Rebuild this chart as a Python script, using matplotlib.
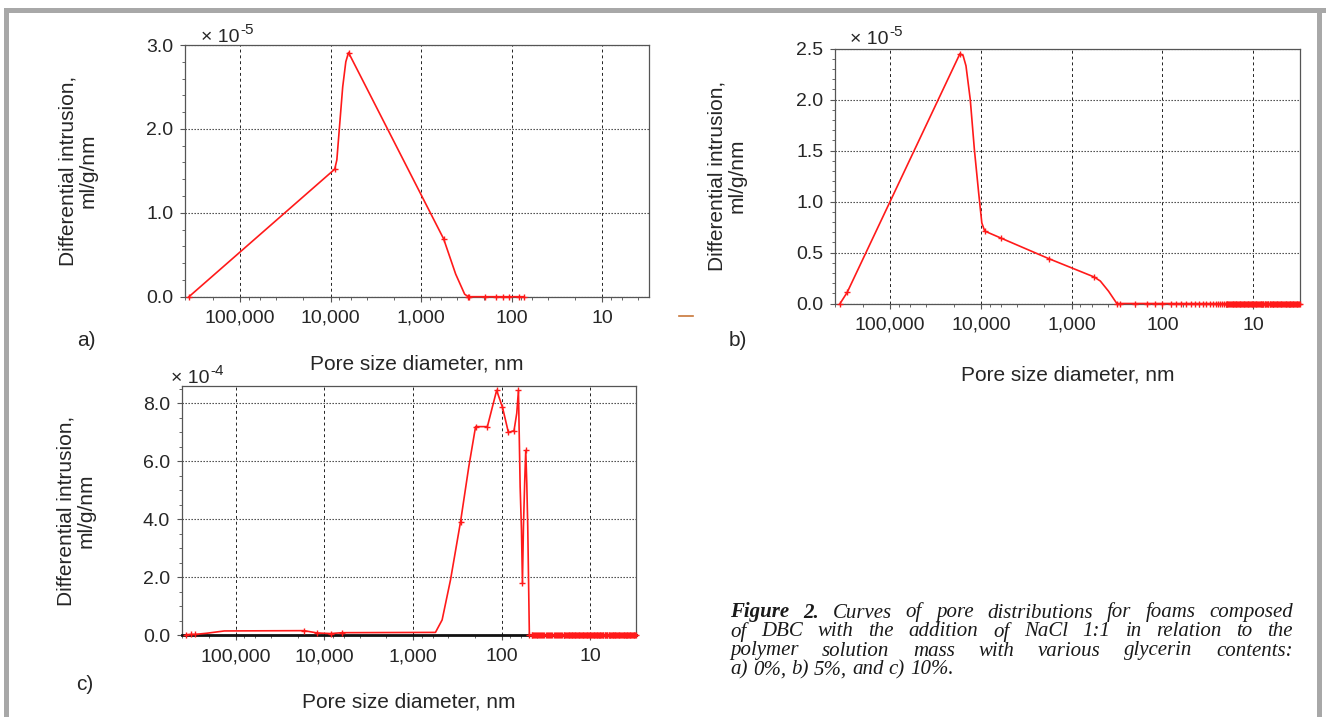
import matplotlib
matplotlib.use("Agg")
import matplotlib.pyplot as plt
from matplotlib.ticker import MultipleLocator, LogLocator, FixedLocator, FuncFormatter, NullFormatter
from matplotlib.patches import Rectangle
from matplotlib.lines import Line2D
from matplotlib.transforms import IdentityTransform

plt.rcParams['font.family'] = ['Liberation Sans', 'DejaVu Sans']

W, H = 1326, 717

# ---- data (pore diameter in nm, differential intrusion in units of the axis multiplier)
pore_a = [366000, 9000, 8530, 7350, 6790, 6340, 565, 416, 331, 302,
          295, 198, 149, 126, 106, 84, 73]
intr_a = [0.0, 1.52, 1.63, 2.50, 2.80, 2.91, 0.69, 0.27, 0.03, 0.0,
          0.0, 0.0, 0.0, 0.0, 0.0, 0.0, 0.0]
marks_a = [0, 1, 5, 6, 9, 10, 11, 12, 13, 14, 15, 16]

pore_b = [356000, 297000, 17000, 15700, 14600, 13100, 11800, 10600, 9770, 9080,
          5970, 1790, 565, 483, 392, 318]
intr_b = [0.0, 0.11, 2.45, 2.43, 2.33, 2.00, 1.51, 1.09, 0.79, 0.71,
          0.64, 0.44, 0.26, 0.22, 0.12, 0.0]
marks_b = [0, 1, 2, 9, 10, 11, 12, 15]

# low-diameter tail of zero readings (dense high-pressure steps)
tail_fine = [20, 19.6, 19.2, 18.8, 18.4, 18.0, 17.6, 17.3, 16.9, 16.6, 16.2,
             15.9, 15.6, 15.3, 15.0, 14.7, 14.4, 14.1, 13.8, 13.5, 13.3, 13.0,
             12.7, 12.5, 12.2, 12.0, 11.7, 11.5, 11.3, 11.0, 10.8, 10.6, 10.4,
             10.2, 10.0, 9.8, 9.6, 9.4, 9.2, 9.0, 8.8, 8.7, 8.5, 8.3, 8.2, 8.0,
             7.8, 7.7, 7.5, 7.4, 7.2, 7.1, 6.9, 6.8, 6.6, 6.5, 6.4, 6.2, 6.1,
             6.0, 5.9, 5.7, 5.6, 5.5, 5.4, 5.3, 5.2, 5.1, 5.0, 4.9, 4.8, 4.7,
             4.6, 4.5, 4.4, 4.3, 4.22, 4.14, 4.06, 3.98, 3.9, 3.82, 3.74, 3.67,
             3.6, 3.53, 3.46, 3.39, 3.32, 3.25, 3.19, 3.13, 3.07]
tail_b = [293, 200, 148, 120, 100, 81, 70, 62, 55, 49, 44, 40, 36, 33, 30, 28,
          26, 24.5, 23, 22, 21]
tail_c = [46, 45, 44, 43, 42, 41, 40, 39, 38, 37, 36, 35, 34, 33, 32, 31, 30,
          29.2, 28.4, 27.6, 26.8, 26, 25.3, 24.6, 23.9, 23.2, 22.5, 21.8,
          21.2, 20.6]

pore_c = [362000, 320000, 290000, 214000, 135000, 17000, 12000, 8500, 6300, 559,
          470, 378, 291, 235, 197, 145, 127, 114, 98, 84,
          72.6, 67.6, 64.7, 61.9, 59.8, 58.3, 56.8, 54.9, 53.5, 52.1,
          50.8, 48.7]
intr_c = [0.02, 0.03, 0.03, 0.07, 0.15, 0.16, 0.08, 0.06, 0.09, 0.10,
          0.53, 1.91, 3.92, 5.81, 7.19, 7.19, 7.88, 8.44, 7.86, 6.99,
          7.05, 7.65, 8.44, 5.12, 3.63, 1.81, 3.75, 5.36, 6.37, 5.24,
          3.75, 0.0]
marks_c = [0, 1, 2, 5, 6, 7, 8, 12, 14, 15, 17, 18, 19, 20, 22, 25, 28, 31]

x_ticks = [100000, 10000, 1000, 100, 10]
caption_lines = [
    "Figure 2. Curves of pore distributions for foams composed",
    "of DBC with the addition of NaCl 1:1 in relation to the",
    "polymer solution mass with various glycerin contents:",
    "a) 0%, b) 5%, and c) 10%.",
]

fig = plt.figure(figsize=(W / 100, H / 100), dpi=100)
TXT = '#262626'


def px_rect(l, t, r, b):
    return [l / W, 1 - b / H, (r - l) / W, (b - t) / H]


def make_panel(rect, pores, vals, marks, ymax, ystep, yminor, expo, mult_xy, tag, tag_xy):
    ax = fig.add_axes(px_rect(*rect))
    ax.plot(pores, vals, color='#ff1a1a', lw=1.2, marker='+', ms=5, mew=1.0,
            markevery=marks, clip_on=False, zorder=3)
    ax.set_xscale('log')
    ax.set_xlim(4.05e5, 3.05)
    ax.set_ylim(0, ymax)
    ax.xaxis.set_major_locator(FixedLocator(x_ticks))
    ax.xaxis.set_major_formatter(FuncFormatter(lambda v, p: f"{v:,.0f}"))
    ax.xaxis.set_minor_locator(LogLocator(base=10, subs=(2, 4, 6, 8)))
    ax.xaxis.set_minor_formatter(NullFormatter())
    ax.yaxis.set_major_locator(MultipleLocator(ystep))
    ax.yaxis.set_minor_locator(MultipleLocator(yminor))
    ax.yaxis.set_major_formatter(FuncFormatter(lambda v, p: f"{v:.1f}"))
    ax.tick_params(which='major', direction='out', length=3.5, width=0.8,
                   color='#555555', labelsize=14, labelcolor=TXT)
    ax.tick_params(which='minor', direction='out', length=2.2, width=0.7,
                   color='#666666')
    ax.tick_params(axis='x', which='major', pad=6)
    ax.tick_params(axis='y', which='major', pad=5)
    ax.grid(axis='x', which='major', ls=(0, (3, 3)), color='#222222', lw=0.7)
    ax.grid(axis='y', which='major', ls=(0, (1.2, 1.5)), color='#333333', lw=0.8)
    for s in ax.spines.values():
        s.set_color('#555555')
        s.set_linewidth(0.9)
    ax.set_xlabel('Pore size diameter, nm', fontsize=15, color=TXT)
    ax.set_ylabel('Differential intrusion,\nml/g/nm', fontsize=15, color=TXT,
                  linespacing=1.1, va='center')
    l, t, r, b = rect
    ax.xaxis.set_label_coords(0.5, -(tag_xy[2] - b) / (b - t))
    ax.yaxis.set_label_coords((tag_xy[3] - l) / (r - l), 0.5)
    # "x 10" multiplier with a raised exponent
    fig.text(mult_xy[0] / W, 1 - (mult_xy[1] + 2) / H, '× 10', fontsize=14,
             color=TXT, va='center', ha='left')
    fig.text((mult_xy[0] + 39) / W, 1 - (mult_xy[1] - 5) / H, expo, fontsize=11,
             color=TXT, va='center', ha='left')
    fig.text(tag_xy[0] / W, 1 - tag_xy[1] / H, tag, fontsize=15,
             color=TXT, va='center', ha='center')
    return ax


# tag_xy: (tag x, tag y, xlabel centre y, ylabel centre x)
ax_a = make_panel((185, 45, 649, 296.7), pore_a, intr_a, marks_a, 3.0, 1.0, 0.2,
                  '-5', (201, 35), 'a)', (86, 341, 355, 78))
tb = tail_b + tail_fine
ax_b = make_panel((835, 48.5, 1300, 303.5), pore_b + tb,
                  intr_b + [0.0] * len(tb),
                  marks_b + list(range(len(pore_b), len(pore_b) + len(tb))),
                  2.5, 0.5, 0.1, '-5', (850, 37), 'b)', (738, 340, 365, 727))
tc = tail_c + tail_fine
ax_c = make_panel((182, 385.7, 636, 635.3), pore_c + tc,
                  intr_c + [0.0] * len(tc),
                  marks_c + list(range(len(pore_c), len(pore_c) + len(tc))),
                  8.6, 2.0, 0.5, '-4', (171, 376), 'c)', (85, 685, 692, 76))
ax_c.spines['bottom'].set_color('#111111')
ax_c.spines['bottom'].set_linewidth(2.0)

# page frame and stray mark
fig.patches.append(Rectangle((4 / W, 1 - 13 / H), (W - 4) / W, 5 / H,
                             transform=fig.transFigure, color='#a8a8a8', lw=0))
fig.patches.append(Rectangle((4 / W, 0), 5 / W, 1 - 8 / H,
                             transform=fig.transFigure, color='#a8a8a8', lw=0))
fig.patches.append(Rectangle((1317 / W, 0), 5 / W, 1 - 8 / H,
                             transform=fig.transFigure, color='#a8a8a8', lw=0))
fig.lines.append(Line2D([679 / W, 693 / W], [1 - 316 / H, 1 - 316 / H],
                        transform=fig.transFigure, color='#c8773a', lw=1.2))

# justified caption
fig.canvas.draw()
renderer = fig.canvas.get_renderer()
cap_left, cap_right = 730, 1293
cap_base = [617.5, 636.5, 655.5, 674.5]
cap_size = 15
for i, line in enumerate(caption_lines):
    words = []
    for j, w in enumerate(line.split()):
        t = fig.text(0, H - cap_base[i], w, transform=IdentityTransform(),
                     fontsize=cap_size, family='Liberation Serif', style='italic',
                     weight='bold' if (i == 0 and j < 2) else 'normal',
                     va='baseline', ha='left', color='#1a1a1a')
        words.append(t)
    widths = [t.get_window_extent(renderer).width for t in words]
    if i < len(caption_lines) - 1:
        gap = (cap_right - cap_left - sum(widths)) / (len(words) - 1)
    else:
        gap = 0.25 * cap_size * 100 / 72
    x = cap_left
    for t, w in zip(words, widths):
        t.set_x(x)
        x += w + gap

fig.savefig('out.png', dpi=100)
